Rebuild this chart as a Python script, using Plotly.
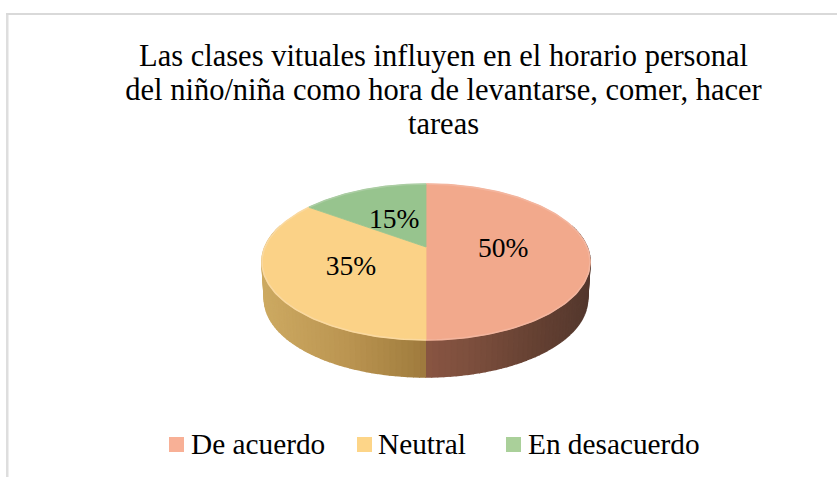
import numpy as np
import plotly.graph_objects as go

title_lines = ["Las clases vituales influyen en el horario personal",
               "del niño/niña como hora de levantarse, comer, hacer",
               "tareas"]
categories = ["De acuerdo", "Neutral", "En desacuerdo"]
values = [50, 35, 15]
top_colors = ["#F2A98C", "#FBD287", "#97C48E"]
rim_colors = ["#F3B59E", "#FAD9A0", "#ABCDA3"]
legend_colors = ["#F8B096", "#FDD588", "#AAD09A"]
label_radius = [0.48, 0.50, 0.47]
wall_stops = [(-1.0, (205, 170, 98)), (-0.5, (188, 150, 82)), (-0.02, (160, 124, 62)),
              (0.02, (136, 84, 66)), (0.25, (126, 80, 62)), (0.7, (100, 64, 50)), (1.0, (84, 56, 46))]

FONT = "Liberation Serif"
W, H = 837, 477
CX, CY, R, S, K, DEPTH, TAPER = 426.0, 247.0, 161.0, 75.1, 0.192, 37.0, 0.985
LABEL_DY = 3.5
TITLE_LINE_PX = 34


def project(t, r=1.0):
    """Clockwise angle from 12 o'clock on the disc to picture coordinates, with perspective."""
    u, v = r * np.sin(t), r * np.cos(t)
    w = 1 + K * v
    return CX + R * u / w, CY - S * v / w


def wall_color(xf):
    xs = [s[0] for s in wall_stops]
    return "rgb(%d,%d,%d)" % tuple(np.interp(xf, xs, [s[1][i] for s in wall_stops]) for i in range(3))


fig = go.Figure()
fracs = np.cumsum([0] + values) / sum(values) * 2 * np.pi

# front wall, thin strips giving the shading
strips = np.linspace(np.pi / 2 - 0.3, 3 * np.pi / 2 + 0.3, 121)
for a, b in zip(strips[:-1], strips[1:]):
    xa, ya = project(a)
    xb, yb = project(b)
    xs = [xa, xb, CX + (xb - CX) * TAPER, CX + (xa - CX) * TAPER]
    ys = [ya, yb, yb + DEPTH, ya + DEPTH]
    col = wall_color((((xa + xb) / 2) - CX) / 164)
    fig.add_trace(go.Scatter(x=xs, y=ys, mode="lines", fill="toself", fillcolor=col,
                             line=dict(color=col, width=1.6), hoverinfo="skip", showlegend=False))

# top of the pie
for i, (cat, col, rim) in enumerate(zip(categories, top_colors, rim_colors)):
    t = np.linspace(fracs[i], fracs[i + 1], 120)
    xs, ys = project(t)
    fig.add_trace(go.Scatter(x=[CX, *xs, CX], y=[CY, *ys, CY], mode="lines", fill="toself",
                             fillcolor=col, line=dict(color=col, width=0.8), name=cat,
                             hoverinfo="skip", showlegend=False))
    fig.add_trace(go.Scatter(x=xs, y=ys, mode="lines", line=dict(color=rim, width=1.6),
                             hoverinfo="skip", showlegend=False))

# percentage labels
mids = (fracs[:-1] + fracs[1:]) / 2
lx, ly = zip(*[project(m, r) for m, r in zip(mids, label_radius)])
fig.add_trace(go.Scatter(x=lx, y=[y + LABEL_DY for y in ly], mode="text", text=[f"{v}%" for v in values],
                         textposition="middle center", textfont=dict(family=FONT, size=27.5, color="#000"),
                         hoverinfo="skip", showlegend=False))

# frame and legend
shapes = [dict(type="line", xref="x", yref="y", x0=7.25, x1=7.25, y0=13, y1=477, line=dict(color="#DEDEDE", width=2.5)),
          dict(type="line", xref="x", yref="y", x0=6, x1=837, y0=14, y1=14, line=dict(color="#D9D9D9", width=2))]
annotations = []
square_x = [169, 357, 506]
text_x = [188.5, 375.5, 525.5]
for cat, col, sx, tx in zip(categories, legend_colors, square_x, text_x):
    shapes.append(dict(type="rect", xref="x", yref="y", x0=sx, x1=sx + 15, y0=437, y1=452,
                       fillcolor=col, line=dict(width=0)))
    annotations.append(dict(xref="x", yref="y", x=tx, y=444, text=cat, showarrow=False, xanchor="left",
                            yanchor="middle", font=dict(family=FONT, size=29.3, color="#000")))

fig.update_layout(
    width=W, height=H, margin=dict(l=0, r=0, t=0, b=0),
    paper_bgcolor="white", plot_bgcolor="white", showlegend=False,
    title=dict(text="<br>".join(title_lines), x=443.5 / W, xanchor="center", xref="paper",
               y=1 - 66 / H, yanchor="top", yref="paper",
               font=dict(family=FONT, size=30.5, color="#000")),
    xaxis=dict(range=[0, W], visible=False, fixedrange=True),
    yaxis=dict(range=[H, 0], visible=False, fixedrange=True),
    shapes=shapes, annotations=annotations,
)
fig.write_html("out.html", config={"displayModeBar": False},
               post_script="document.body.style.margin='0';document.body.style.overflow='hidden';"
                           "document.querySelectorAll('.gtitle .line').forEach(function(l,i){l.setAttribute('dy',(i*%d)+'px');});" % TITLE_LINE_PX)
